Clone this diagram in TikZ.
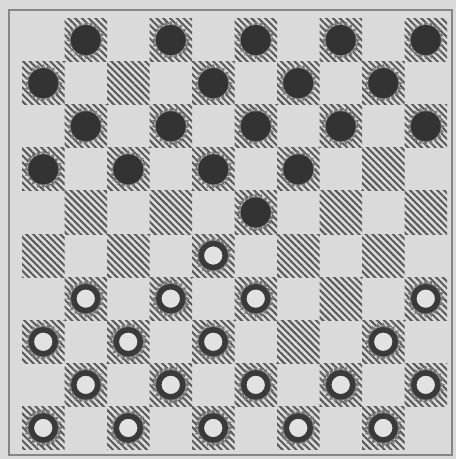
\documentclass[tikz,border=0pt]{standalone}
\usetikzlibrary{patterns.meta,shapes.geometric}
\definecolor{bg}{HTML}{DADADA}
\definecolor{ink}{HTML}{333333}
\definecolor{ring}{HTML}{3A3A3A}
\definecolor{hatch}{HTML}{585858}
\definecolor{framec}{HTML}{858585}
\definecolor{pale}{HTML}{E2E2E2}
\tikzset{
  darksq/.style={pattern={Lines[angle=-45,distance=4.8pt,line width=2pt]},pattern color=hatch},
  spikes/.style={star,star points=20,star point ratio=1.3,fill=hatch!80,minimum size=39pt,inner sep=0pt},
  blackpc/.style={circle,fill=ink,minimum size=30pt,inner sep=0pt},
  whitepc/.style={circle,draw=ring,line width=5.5pt,fill=pale,minimum size=24pt,inner sep=0pt},
}
\begin{document}
\begin{tikzpicture}[x=1pt,y=-1pt]
\useasboundingbox (0,0) rectangle (456,459);
\fill[bg] (0,0) rectangle (456,459);
\draw[framec,line width=2.5pt] (9,10) rectangle (452,455);
% dark squares
\foreach \r in {0,...,9}{
  \foreach \k in {0,...,4}{
    \pgfmathsetmacro\c{2*\k+1-mod(\r,2)}
    \fill[darksq] ({22+42.5*\c},{18.5+43.1*\r}) rectangle ++(42.5,43.1);
  }
}
% black pieces
\foreach \r/\c in {0/1,0/3,0/5,0/7,0/9,
                   1/0,1/4,1/6,1/8,
                   2/1,2/3,2/5,2/7,2/9,
                   3/0,3/2,3/4,3/6,
                   4/5}{
  \fill[bg] ({43.25+42.5*\c},{40.05+43.1*\r}) circle (16.5pt);
  \node[spikes] (sb\r\c) at ({43.25+42.5*\c},{40.05+43.1*\r}) {};
  \node[blackpc] (b\r\c) at ({43.25+42.5*\c},{40.05+43.1*\r}) {};
}
% white pieces
\foreach \r/\c in {5/4,
                   6/1,6/3,6/5,6/9,
                   7/0,7/2,7/4,7/8,
                   8/1,8/3,8/5,8/7,8/9,
                   9/0,9/2,9/4,9/6,9/8}{
  \fill[bg] ({43.25+42.5*\c},{40.05+43.1*\r}) circle (16.5pt);
  \node[spikes] (sw\r\c) at ({43.25+42.5*\c},{40.05+43.1*\r}) {};
  \node[whitepc] (w\r\c) at ({43.25+42.5*\c},{40.05+43.1*\r}) {};
}
\end{tikzpicture}
\end{document}
